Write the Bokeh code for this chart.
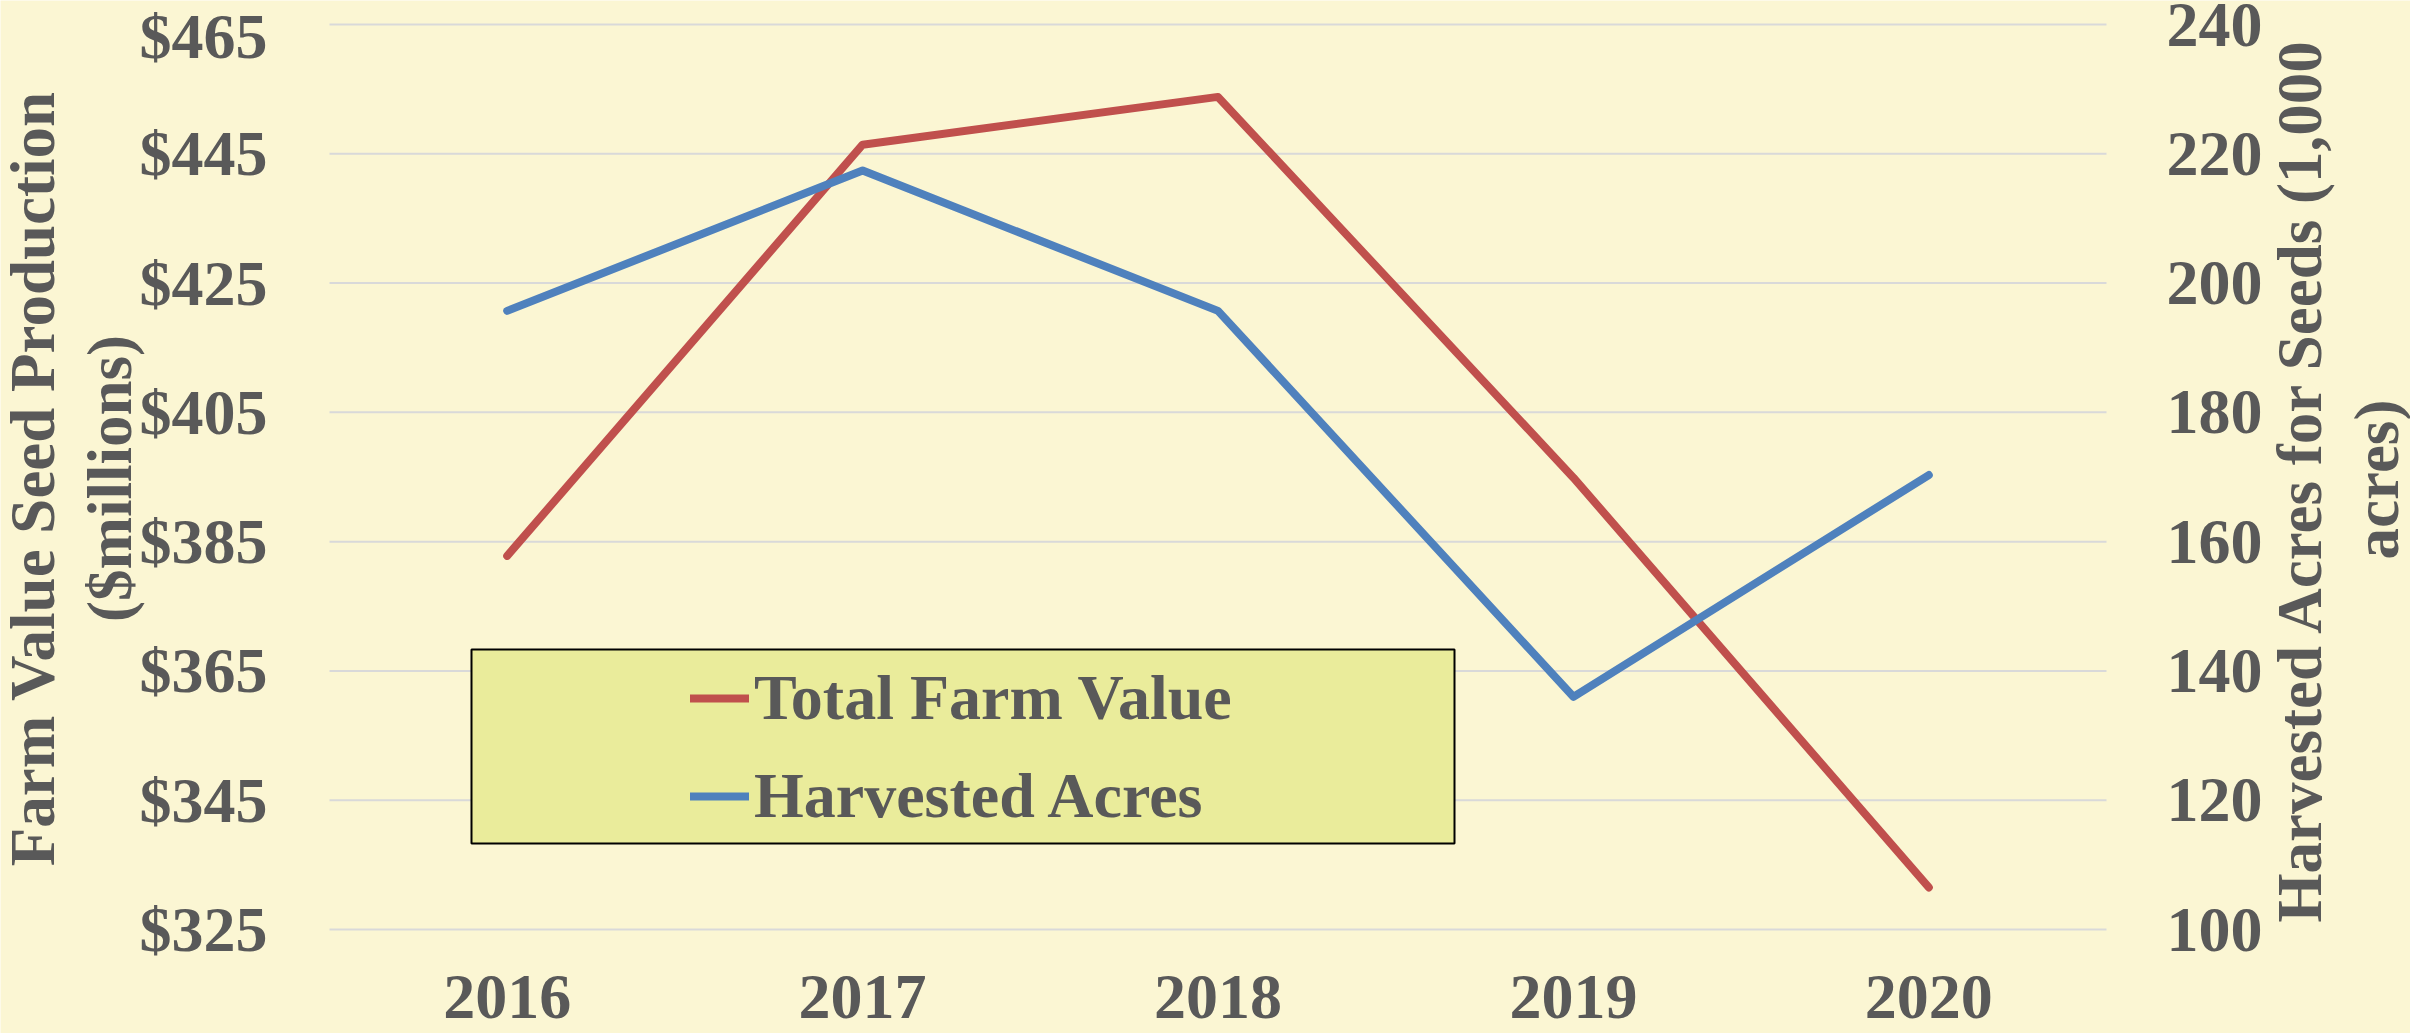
import math
from bokeh.plotting import figure
from bokeh.models import (Range1d, LinearAxis, FixedTicker, PrintfTickFormatter,
                          Legend, LegendItem, BoxAnnotation, Label)
from bokeh.embed import file_html
from bokeh.resources import INLINE

# ---- data ----
years = ["2016", "2017", "2018", "2019", "2020"]
farm_value = [382.8, 446.4, 453.8, 394.9, 331.5]          # $ millions (left axis)
harvested_acres = [195.7, 217.4, 195.7, 136.0, 170.3]     # 1,000 acres (right axis)
left_ticks = [325, 345, 365, 385, 405, 425, 445, 465]
right_ticks = [100, 120, 140, 160, 180, 200, 220, 240]

x_pos = list(range(len(years)))

# ---- layout (pixels) ----
W, H = 2410, 1033
PX_L, PX_R, PX_T, PX_B = 329, 2106, 24, 929     # visible plotting area

FONT = "Liberation Serif"
TXT = "#595959"
BG = "#FBF6D3"
FS = "64px"          # tick labels and legend
FS_TITLE = "63px"    # axis titles

# the frame covers the whole canvas; ranges are extended so that the
# plotting area sits at PX_L..PX_R / PX_T..PX_B
ux = (PX_R - PX_L) / len(years)
x0, x1 = -0.5, len(years) - 0.5
x_start = x0 - PX_L / ux
x_end = x1 + (W - PX_R) / ux

def y_ext(lo, hi):
    uy = (PX_B - PX_T) / (hi - lo)
    return lo - (H - PX_B) / uy, hi + PX_T / uy

ly0, ly1 = left_ticks[0], left_ticks[-1]
ry0, ry1 = right_ticks[0], right_ticks[-1]
l_start, l_end = y_ext(ly0, ly1)
r_start, r_end = y_ext(ry0, ry1)
uy_l = (PX_B - PX_T) / (ly1 - ly0)

def dx(px):
    return x_start + px / ux

def dy(py):
    return l_end - py / uy_l

p = figure(width=W, height=H, output_backend="svg", toolbar_location=None,
           x_range=Range1d(x_start, x_end), y_range=Range1d(l_start, l_end),
           min_border=0, min_border_left=0, min_border_right=0,
           min_border_top=0, min_border_bottom=0,
           x_axis_location=None, y_axis_location=None)
p.extra_y_ranges = {"acres": Range1d(r_start, r_end)}
p.title.visible = False

p.background_fill_color = BG
p.border_fill_color = BG
p.outline_line_color = None
p.grid.visible = False

# axes drawn at the edges of the plotting area
xa = LinearAxis(ticker=FixedTicker(ticks=x_pos), fixed_location=ly0)
xa.major_label_overrides = {i: y for i, y in zip(x_pos, years)}
xa.major_label_standoff = 40
p.add_layout(xa, "below")

ya = LinearAxis(ticker=FixedTicker(ticks=left_ticks), fixed_location=x0,
                formatter=PrintfTickFormatter(format="$%d"))
ya.major_label_standoff = 56
p.add_layout(ya, "left")

ra = LinearAxis(y_range_name="acres", ticker=FixedTicker(ticks=right_ticks),
                fixed_location=x1)
ra.major_label_standoff = 54
p.add_layout(ra, "right")

for ax in [xa, ya, ra]:
    ax.axis_line_color = None
    ax.major_tick_line_color = None
    ax.minor_tick_line_color = None
    ax.major_label_text_font = FONT
    ax.major_label_text_font_size = FS
    ax.major_label_text_font_style = "bold"
    ax.major_label_text_color = TXT

# horizontal gridlines at the left-axis ticks, spanning the plotting area
p.segment(x0=x0, x1=x1, y0=left_ticks, y1=left_ticks,
          line_color="#D9D9D9", line_width=2)

# axis titles (rotated, reading bottom to top)
title_kw = dict(angle=math.pi / 2, text_align="center", text_baseline="middle",
                text_font=FONT, text_font_size=FS_TITLE, text_font_style="bold",
                text_color=TXT, text_line_height=1.10)
p.add_layout(Label(x=dx(71), y=dy(478),
                   text="Farm Value Seed Production\n($millions)", **title_kw))
p.add_layout(Label(x=dx(2338), y=dy(479),
                   text="Harvested Acres for Seeds (1,000\nacres)", **title_kw))

r1 = p.line(x_pos, farm_value, line_color="#C0504D", line_width=8,
            line_cap="round", line_join="round")
r2 = p.line(x_pos, harvested_acres, line_color="#4F81BD", line_width=8,
            line_cap="round", line_join="round", y_range_name="acres")

# legend box
box = BoxAnnotation(left=dx(471), right=dx(1454), top=dy(649), bottom=dy(843),
                    fill_color="#EAEC9B", fill_alpha=1.0,
                    line_color="black", line_width=2, line_alpha=1.0)
p.add_layout(box)

legend = Legend(items=[LegendItem(label="Total Farm Value", renderers=[r1]),
                       LegendItem(label="Harvested Acres", renderers=[r2])],
                location=(690, H - 845), padding=0, spacing=0, margin=0,
                label_height=98, glyph_height=40, glyph_width=59,
                label_standoff=5,
                border_line_color=None, background_fill_alpha=0.0,
                label_text_font=FONT, label_text_font_size=FS,
                label_text_font_style="bold", label_text_color=TXT)
p.add_layout(legend)

open("out.html", "w").write(file_html(p, INLINE))
